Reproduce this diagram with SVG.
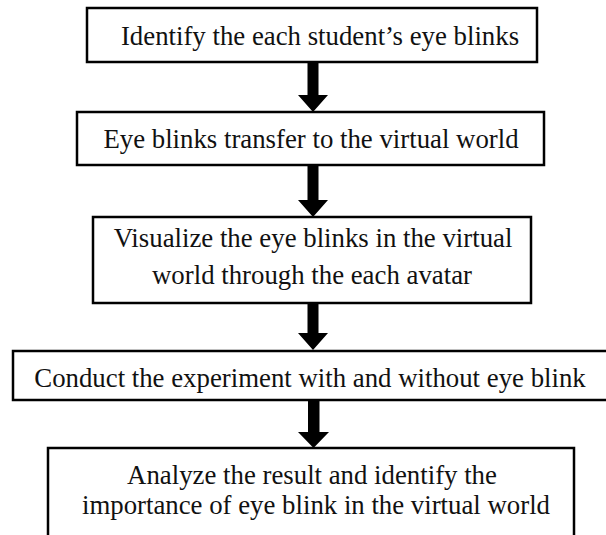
<svg xmlns="http://www.w3.org/2000/svg" width="606" height="535" viewBox="0 0 606 535">
<style>
.box{fill:#fff;stroke:#000;stroke-width:2.5}
.t{font-family:"Liberation Serif","Times New Roman",serif;font-size:26.8px;fill:#111;text-anchor:middle}
.arr{fill:#000}
</style>
<rect width="606" height="535" fill="#fff"/>
<g id="n1">
<rect class="box" x="87" y="8" width="450" height="54"/>
<text class="t" x="320" y="45">Identify the each student’s eye blinks</text>
</g>
<g id="n2">
<rect class="box" x="77" y="112" width="467" height="53"/>
<text class="t" x="311" y="148">Eye blinks transfer to the virtual world</text>
</g>
<g id="n3">
<rect class="box" x="93" y="217" width="438" height="86"/>
<text class="t" x="313" y="247">Visualize the eye blinks in the virtual</text>
<text class="t" x="312" y="284">world through the each avatar</text>
</g>
<g id="n4">
<rect class="box" x="13" y="351" width="610" height="49"/>
<text class="t" x="310" y="387">Conduct the experiment with and without eye blink</text>
</g>
<g id="n5">
<rect class="box" x="48" y="448" width="526" height="110"/>
<text class="t" x="312" y="484">Analyze the result and identify the</text>
<text class="t" x="316" y="514">importance of eye blink in the virtual world</text>
</g>
<g id="connectors">
<path class="arr" d="M307.5 62 H318.5 V95 H328 L313 112 L298 95 H307.5 Z"/>
<path class="arr" d="M307.5 165 H318.5 V200 H328 L313 217 L298 200 H307.5 Z"/>
<path class="arr" d="M307.5 303 H318.5 V333 H328 L313 350 L298 333 H307.5 Z"/>
<path class="arr" d="M308 400 H319.5 V432 H329 L313.5 448 L298 432 H308 Z"/>
</g>
</svg>
